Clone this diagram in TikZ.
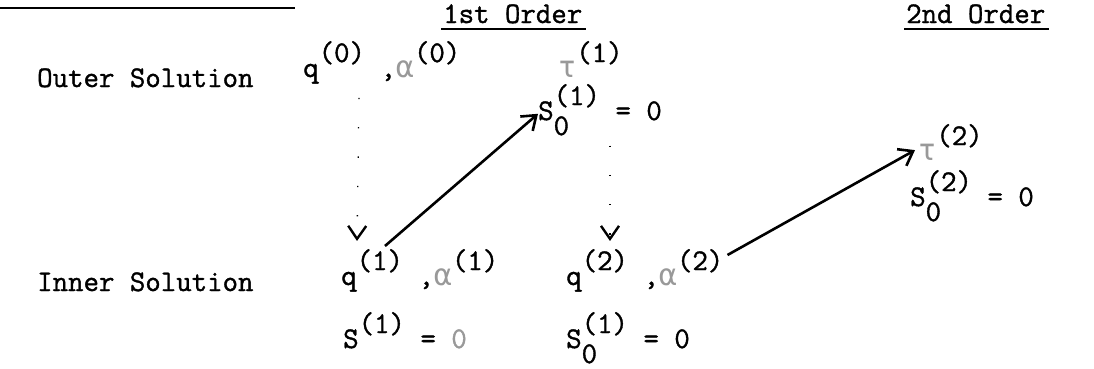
\documentclass[tikz,border=0pt]{standalone}
\usepackage{fontspec}
\newfontfamily\tw[FakeBold=1.2]{Latin Modern Mono}
\newfontfamily\grk{DejaVu Sans Mono}
\usetikzlibrary{arrows.meta}
\newcommand\hi[1]{\raisebox{15pt}{#1}}
\newcommand\lo[1]{\raisebox{-15pt}{#1}}
\newcommand\subsup[2]{\rlap{\lo{#1}}\hi{#2}}
\newcommand\fa[1]{{\color{black!40}#1}}
\begin{document}
\begin{tikzpicture}[x=1pt,y=-1pt,
  txt/.style={anchor=base west,inner sep=0pt,font=\tw\fontsize{30}{30}\selectfont},
  uline/.style={line width=2pt},
  arr/.style={line width=2.6pt,-{Straight Barb[length=13pt,width=19pt,line width=2.6pt]}},
  dotarr/.style={line width=1.3pt,dash pattern=on 1.3pt off 28pt,-{Straight Barb[length=13pt,width=18pt,line width=2.4pt]}}]
\useasboundingbox (0,0) rectangle (1094,368);
\draw[line width=2.8pt] (0,8) -- (295,8);
\node[txt] (h1) at (443,23) {1st Order};
\node[txt] (h2) at (906,23) {2nd Order};
\draw[uline] ([shift={(-2,6)}]h1.base west) -- ([shift={(4,6)}]h1.base east);
\draw[uline] ([shift={(-2,6)}]h2.base west) -- ([shift={(4,6)}]h2.base east);
\node[txt] (outer) at (37,87) {Outer Solution};
\node[txt] (inner) at (37,291) {Inner Solution};
\node[txt] (q0) at (303,77) {q\hi{(0)} ,\fa{\grk α}\hi{(0)}};
\node[txt] (t1) at (558,77) {\fa{\grk τ}\hi{(1)}};
\node[txt] (so1) at (538,120) {S\subsup{0}{(1)} = 0};
\node[txt] (q1) at (341,285) {q\hi{(1)} ,\fa{\grk α}\hi{(1)}};
\node[txt] (q2) at (566,285) {q\hi{(2)} ,\fa{\grk α}\hi{(2)}};
\node[txt] (t2) at (918,160) {\fa{\grk τ}\hi{(2)}};
\node[txt] (so2) at (910,206) {S\subsup{0}{(2)} = 0};
\node[txt] (si1) at (343,348) {S\hi{(1)} = \fa{0}};
\node[txt] (si2) at (566,348) {S\subsup{0}{(1)} = 0};
\draw[dotarr] ([shift={(56,14)}]q0.south west) -- ([shift={(16,-8)}]q1.north west);
\draw[dotarr] ([shift={(72,10)}]so1.south west) -- ([shift={(44,-8)}]q2.north west);
\draw[arr] ([shift={(44,-3)}]q1.north west) -- ([shift={(0,4)}]so1.west);
\draw[arr] ([shift={(4,6)}]q2.north east) -- ([shift={(-3,8)}]t2.west);
\end{tikzpicture}
\end{document}
